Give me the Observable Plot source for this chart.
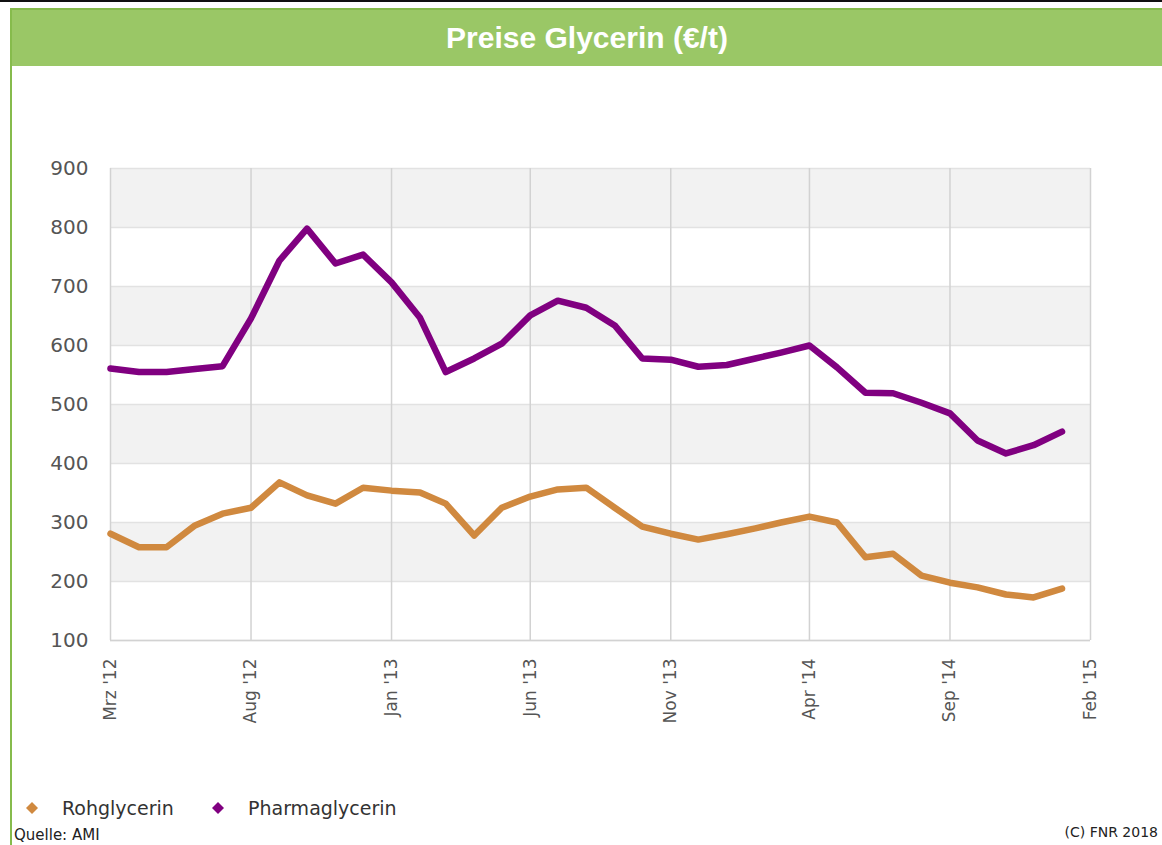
<!DOCTYPE html>
<html>
<head>
<meta charset="utf-8">
<script src="https://cdn.jsdelivr.net/npm/d3@7"></script>
<script src="https://cdn.jsdelivr.net/npm/@observablehq/plot@0.6"></script>
<style>
  html, body { margin: 0; padding: 0; background: #fff; }
  #page { position: relative; width: 1162px; height: 845px; overflow: hidden; background: #fff; }
  #topline { position: absolute; left: 0; top: 0; width: 1162px; height: 2px; background: #111; }
  #header { position: absolute; left: 10px; top: 8px; width: 1152px; height: 58px; background: #9ac766;
            border-top: 2px solid #86bb4c; border-left: 2px solid #86bb4c; box-sizing: border-box;
            color: #fff; font: bold 30px "Liberation Sans", Arial, sans-serif; text-align: center; line-height: 56px; }
  #leftline { position: absolute; left: 10px; top: 66px; width: 2px; height: 779px; background: #86bb4c; }
  #chart { position: absolute; left: 0; top: 0; }
  .legend { position: absolute; top: 797px; font: 19px "DejaVu Sans", sans-serif; color: #333; display: flex; align-items: center; }
  .legend svg { margin-right: 24px; }
  #source { position: absolute; left: 14px; top: 826px; font: 15px "DejaVu Sans", sans-serif; color: #222; }
  #copy { position: absolute; right: 4px; top: 824px; font: 14px "DejaVu Sans", sans-serif; color: #222; }
</style>
</head>
<body>
<div id="page">
  <div id="chart"></div>
  <div id="topline"></div>
  <div id="header">Preise Glycerin (€/t)</div>
  <div id="leftline"></div>
  <div class="legend" style="left:26px"><svg width="12" height="12"><polygon points="6,0 12,6 6,12 0,6" fill="#d0893f"/></svg>Rohglycerin</div>
  <div class="legend" style="left:212px"><svg width="12" height="12"><polygon points="6,0 12,6 6,12 0,6" fill="#800080"/></svg>Pharmaglycerin</div>
  <div id="source">Quelle: AMI</div>
  <div id="copy">(C) FNR 2018</div>
</div>
<script>
// Months (Mar 2012 – Jan 2015)
const months = [
  "2012-03","2012-04","2012-05","2012-06","2012-07","2012-08","2012-09","2012-10","2012-11","2012-12",
  "2013-01","2013-02","2013-03","2013-04","2013-05","2013-06","2013-07","2013-08","2013-09","2013-10","2013-11","2013-12",
  "2014-01","2014-02","2014-03","2014-04","2014-05","2014-06","2014-07","2014-08","2014-09","2014-10","2014-11","2014-12",
  "2015-01"
];
const rohglycerin = [
  281, 258, 258, 295, 315, 325, 368, 346, 332, 359,
  354, 351, 332, 278, 325, 344, 356, 359, 325, 293, 281, 271,
  280, 290, 300, 310, 300, 241, 247, 210, 198, 190, 178, 173,
  188
];
const pharmaglycerin = [
  561, 555, 555, 560, 565, 646, 744, 798, 739, 754,
  707, 647, 555, 578, 603, 651, 676, 664, 634, 578, 576, 564,
  567, 578, 588, 600, 563, 520, 519, 503, 485, 439, 417, 431,
  454
];
const xTickDates = ["2012-03","2012-08","2013-01","2013-06","2013-11","2014-04","2014-09","2015-02"];
const xTickLabels = ["Mrz '12","Aug '12","Jan '13","Jun '13","Nov '13","Apr '14","Sep '14","Feb '15"];
const yTicks = [100, 200, 300, 400, 500, 600, 700, 800, 900];
const shadedBandStarts = [200, 400, 600, 800];

const seriesNames = ["Rohglycerin", "Pharmaglycerin"];
const seriesColors = ["#d0893f", "#800080"];

const data = [];
months.forEach((m, i) => {
  data.push({date: new Date(m), value: rohglycerin[i], series: seriesNames[0]});
  data.push({date: new Date(m), value: pharmaglycerin[i], series: seriesNames[1]});
});
const tickDates = xTickDates.map(s => new Date(s));
const labelByTime = new Map(tickDates.map((d, i) => [d.getTime(), xTickLabels[i]]));

const chart = Plot.plot({
  width: 1162,
  height: 760,
  marginTop: 168,
  marginLeft: 110,
  marginRight: 72,
  marginBottom: 120,
  style: {fontFamily: "DejaVu Sans, sans-serif", background: "transparent", overflow: "visible"},
  x: {type: "utc", domain: [tickDates[0], tickDates[tickDates.length - 1]]},
  y: {domain: [100, 900]},
  color: {domain: seriesNames, range: seriesColors},
  marks: [
    Plot.rect(shadedBandStarts, {y1: d => d, y2: d => d + 100, fill: "#f2f2f2"}),
    Plot.gridY(yTicks, {stroke: "#e2e2e2", strokeOpacity: 1, strokeWidth: 1.5}),
    Plot.gridX(tickDates, {stroke: "#d2d2d2", strokeOpacity: 1, strokeWidth: 1.5}),
    Plot.ruleY([100], {stroke: "#d2d2d2", strokeWidth: 1.5}),
    Plot.axisY(yTicks, {tickSize: 0, tickPadding: 22, fontSize: 20, fill: "#555", label: null}),
    Plot.axisX(tickDates, {tickSize: 0, tickRotate: -90, tickPadding: 18, fontSize: 17, fill: "#555", label: null,
      tickFormat: d => labelByTime.get(d.getTime())}),
    Plot.line(data, {x: "date", y: "value", z: "series", stroke: "series", strokeWidth: 6.5, strokeLinejoin: "round", strokeLinecap: "round"})
  ]
});
document.getElementById("chart").appendChild(chart);
</script>
</body>
</html>
